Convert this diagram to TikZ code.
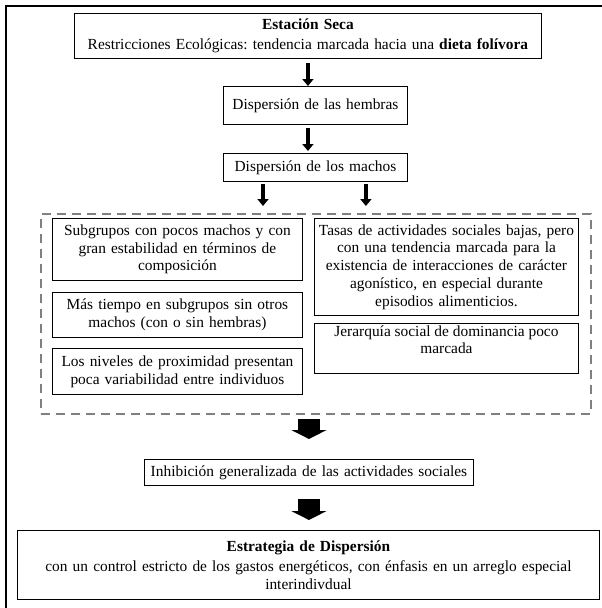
\documentclass[tikz,border=0pt]{standalone}
\usepackage{fontspec}
\setmainfont{Liberation Serif}
\usetikzlibrary{arrows.meta}
\frenchspacing

\tikzset{
	box/.style={draw, line width=0.9pt, align=center, anchor=north west, inner xsep=4pt, inner ysep=0pt},
	groupbox/.style={draw=gray, line width=1.8pt, dash pattern=on 9pt off 6pt, anchor=north west, inner sep=0pt},
	thinarrow/.style={line width=4.5pt, -{Triangle[width=11pt,length=7pt]}},
	fatarrow/.style={line width=22pt, -{Triangle[width=35pt,length=9pt]}}
}

\begin{document}
\begin{tikzpicture}[x=1pt, y=-1pt, font=\fontsize{15.4}{17.7}\selectfont]
	
	\useasboundingbox (0,0) rectangle (602,608);
	
	% Frame
	\draw[line width=1.6pt] (602,6) -- (6,6) -- (6,608);
	
	% -----------------------------
	% Upper chain
	% -----------------------------
	\node[box, text width=459pt, minimum height=45pt] (seca) at (74,13)
	{\textbf{Estación Seca}\\[3pt]
		Restricciones Ecológicas: tendencia marcada hacia una \textbf{dieta folívora}};
	\node[box, text width=176pt, minimum height=38pt] (hem) at (223,86) {Dispersión de las hembras};
	\node[box, text width=176pt, minimum height=28pt] (mach) at (223,153) {Dispersión de los machos};
	
	\draw[thinarrow, shorten <=4pt] (seca.south) -- (seca.south |- hem.north);
	\draw[thinarrow, shorten <=3pt, shorten >=2pt] (hem.south -| seca.south) -- (mach.north -| seca.south);
	
	% -----------------------------
	% Dashed group
	% -----------------------------
	\node[groupbox, minimum width=550pt, minimum height=200pt] (grp) at (40,213) {};
	
	\draw[thinarrow, shorten <=2pt, shorten >=7pt] ([xshift=40pt]mach.south west) -- ([xshift=40pt]mach.south west |- grp.north);
	\draw[thinarrow, shorten <=2pt, shorten >=7pt] ([xshift=-42pt]mach.south east) -- ([xshift=-42pt]mach.south east |- grp.north);
	
	% Left column
	\node[box, text width=242pt, minimum height=62pt] (sub) at (52,218)
	{Subgrupos con pocos machos y con\\ gran estabilidad en términos de\\ composición};
	\node[box, text width=242pt, minimum height=45pt] (mas) at (52,292)
	{Más tiempo en subgrupos sin otros\\ machos (con o sin hembras)};
	\node[box, text width=242pt, minimum height=46pt] (niv) at (52,348)
	{Los niveles de proximidad presentan\\ poca variabilidad entre individuos};
	
	% Right column
	\node[box, text width=256pt, minimum height=97pt] (tas) at (314,218)
	{Tasas de actividades sociales bajas, pero\\ con una tendencia marcada para la\\
		existencia de interacciones de carácter\\ agonístico, en especial durante\\ episodios alimenticios.};
	\node[box, minimum width=264pt, minimum height=50pt] (jer) at (314,323)
	{\parbox[c][46pt][t]{256pt}{\centering Jerarquía social de dominancia poco\\ marcada}};
	
	% -----------------------------
	% Lower chain
	% -----------------------------
	\node[box, text width=321pt, minimum height=26pt] (inh) at (144,459)
	{Inhibición generalizada de las actividades sociales};
	\node[box, text width=574pt, minimum height=69pt] (fin) at (17,530)
	{\textbf{Estrategia de Dispersión}\\[3pt]
		con un control estricto de los gastos energéticos, con énfasis en un arreglo especial\\
		interindivdual};
	
	\draw[fatarrow, shorten <=4pt, shorten >=20pt] (inh.north |- grp.south) -- (inh.north);
	\draw[fatarrow, shorten <=13pt, shorten >=10pt] (inh.south) -- (inh.south |- fin.north);
	
\end{tikzpicture}
\end{document}
